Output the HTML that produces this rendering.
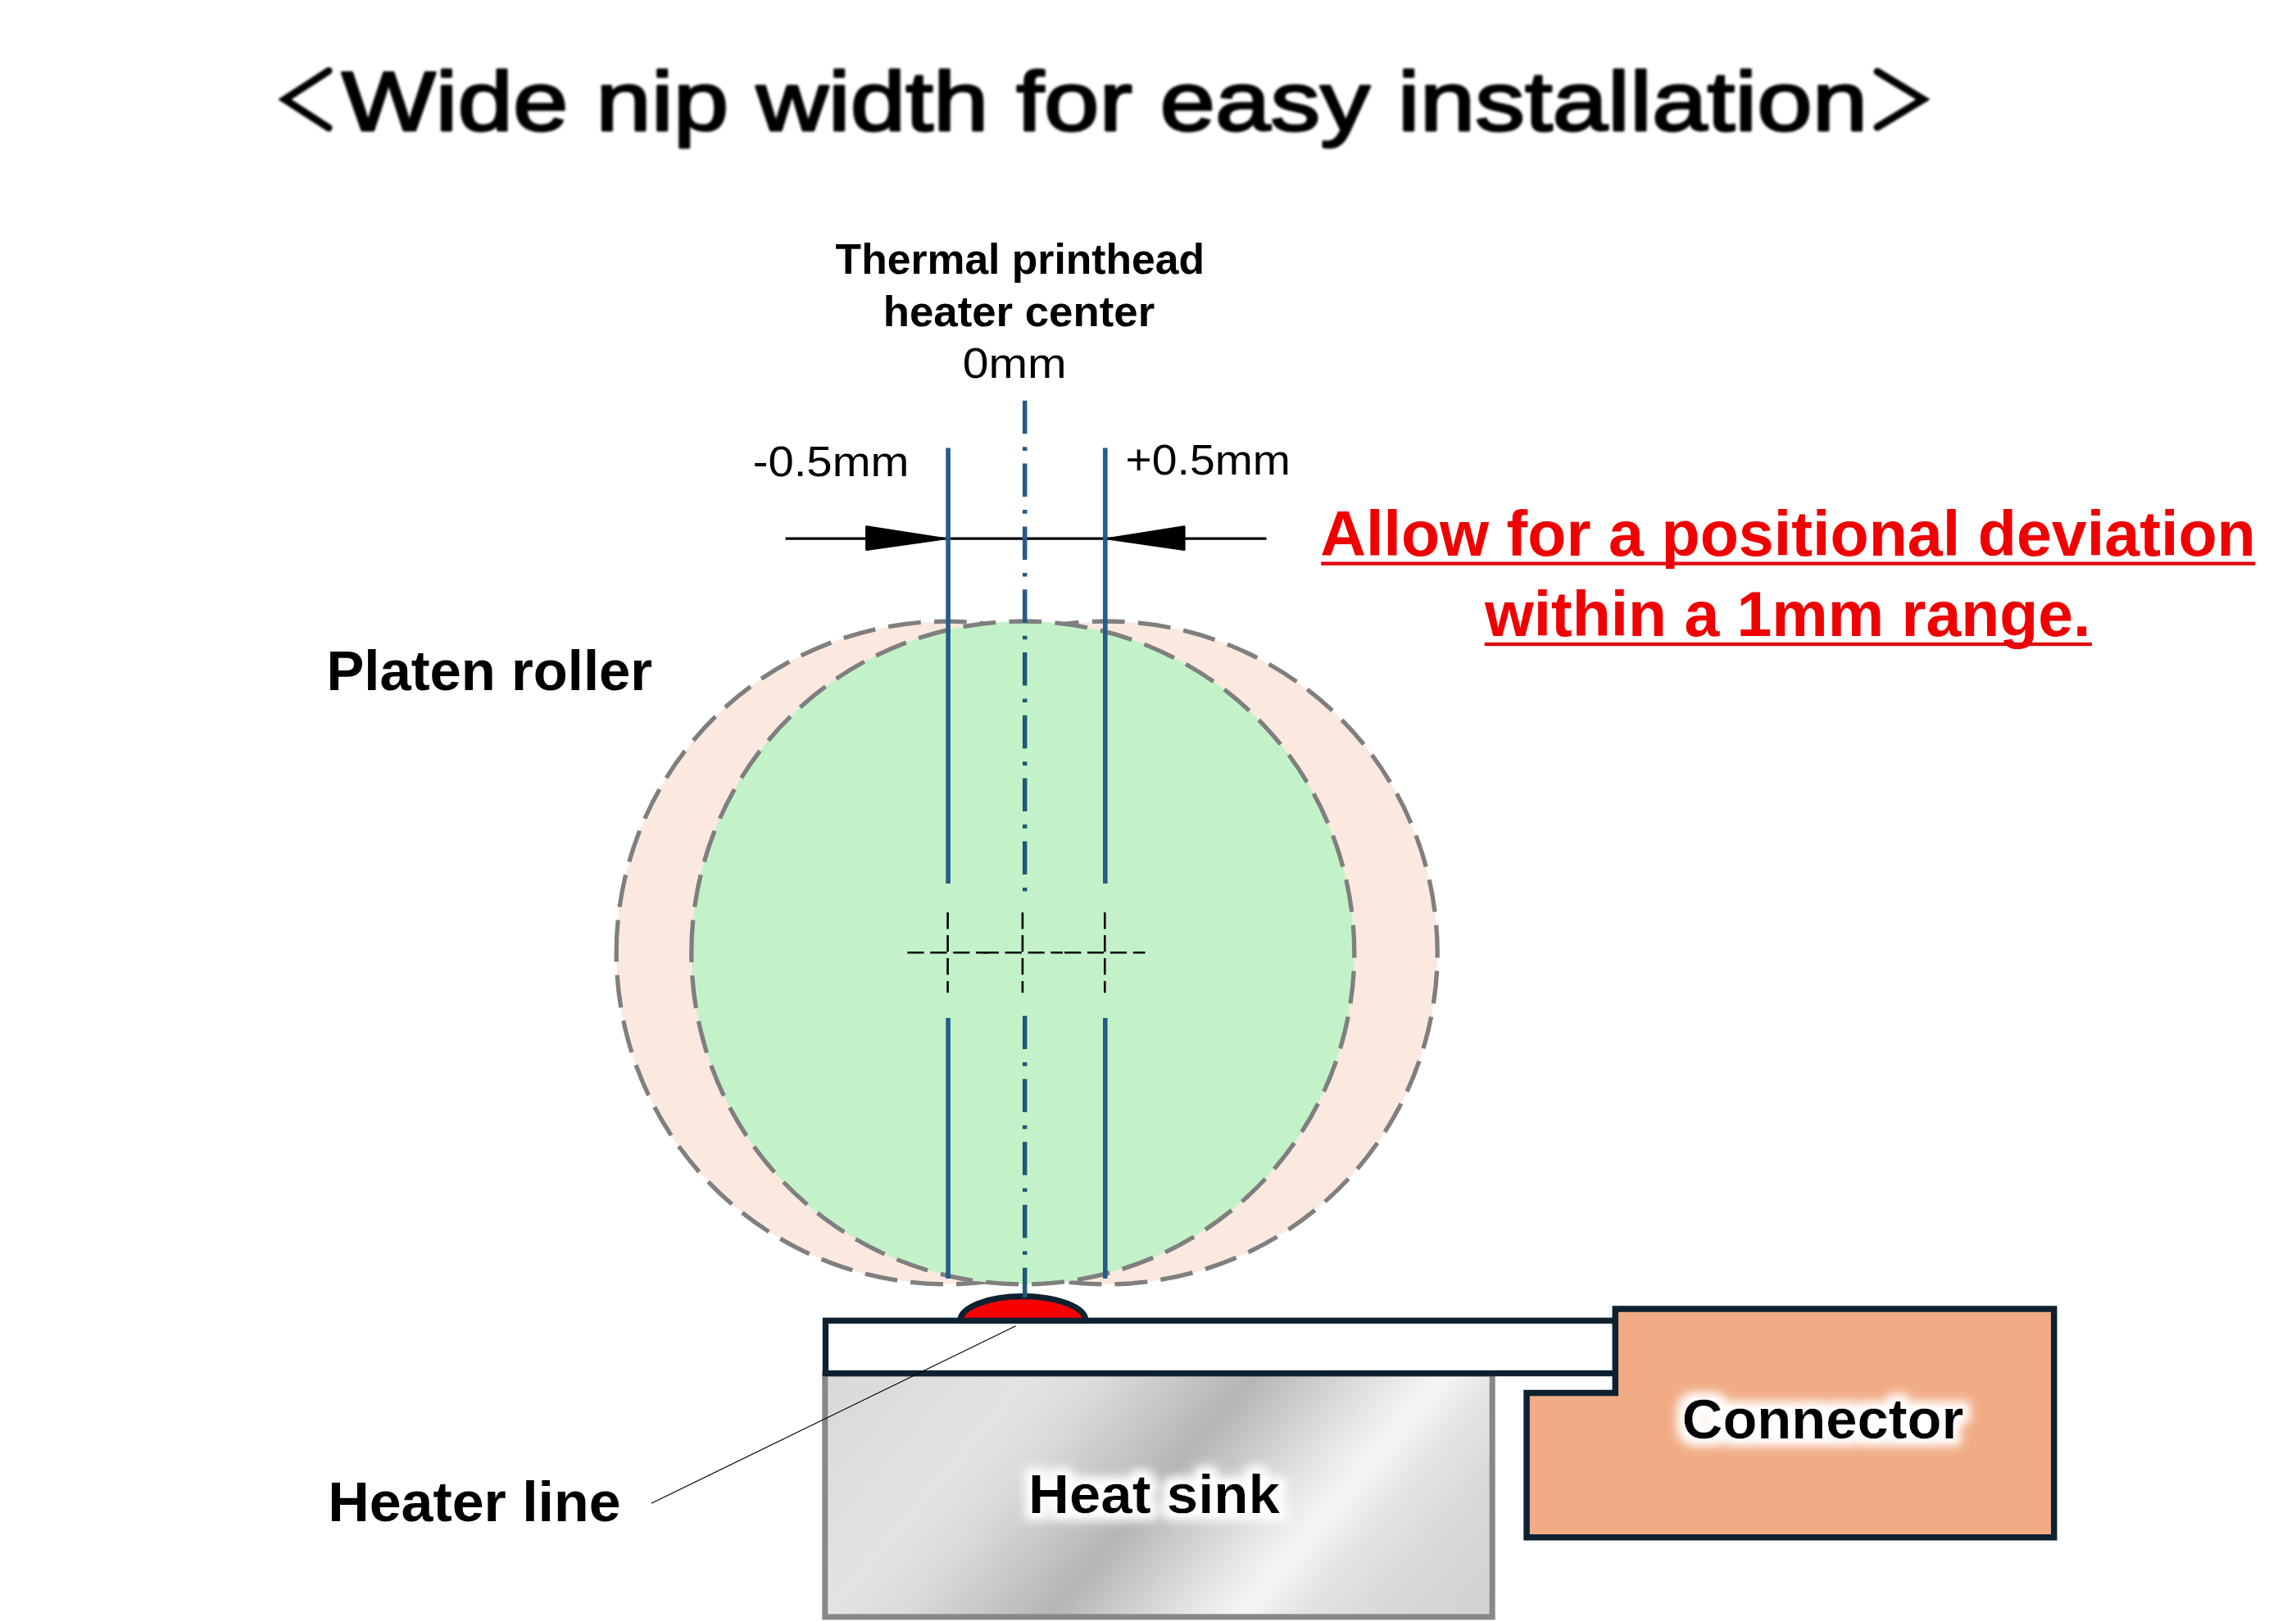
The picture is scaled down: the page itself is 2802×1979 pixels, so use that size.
<!DOCTYPE html>
<html><head><meta charset="utf-8">
<style>
html,body{margin:0;padding:0;background:#fff;overflow:hidden;}
svg{display:block;}
text{font-family:"Liberation Sans", sans-serif;}
</style></head>
<body>
<svg width="2802" height="1979" viewBox="0 0 2802 1979">
<defs>
  <linearGradient id="metal" gradientUnits="userSpaceOnUse" x1="1010" y1="1683" x2="1621.9" y2="2201.1">
    <stop offset="0" stop-color="#d9d9d9"/>
    <stop offset="0.233" stop-color="#e3e3e3"/>
    <stop offset="0.314" stop-color="#dbdbdb"/>
    <stop offset="0.414" stop-color="#c6c6c6"/>
    <stop offset="0.491" stop-color="#b5b5b5"/>
    <stop offset="0.576" stop-color="#cfcfcf"/>
    <stop offset="0.651" stop-color="#e6e6e6"/>
    <stop offset="0.713" stop-color="#f6f6f6"/>
    <stop offset="0.776" stop-color="#e4e4e4"/>
    <stop offset="0.875" stop-color="#d8d8d8"/>
    <stop offset="1" stop-color="#d2d2d2"/>
  </linearGradient>
  <linearGradient id="cl" gradientUnits="userSpaceOnUse" x1="0" y1="480" x2="0" y2="1590">
    <stop offset="0" stop-color="#275a8b"/>
    <stop offset="0.25" stop-color="#275a8b"/>
    <stop offset="0.251" stop-color="#1d5a78"/>
    <stop offset="1" stop-color="#1d5a78"/>
  </linearGradient>
  <filter id="soft" x="-5%" y="-50%" width="110%" height="200%"><feGaussianBlur stdDeviation="1.4"/></filter>
  <filter id="glow" x="-20%" y="-50%" width="140%" height="200%">
    <feMorphology in="SourceAlpha" operator="dilate" radius="9" result="d"/>
    <feGaussianBlur in="d" stdDeviation="6" result="b"/>
    <feFlood flood-color="#ffffff"/>
    <feComposite in2="b" operator="in" result="g"/>
    <feMerge><feMergeNode in="g"/><feMergeNode in="SourceGraphic"/></feMerge>
  </filter>
</defs>

<!-- Title -->
<g filter="url(#soft)">
<text x="417.0" y="159" font-size="102.2" fill="#000" stroke="#000" stroke-width="2.8" stroke-linejoin="round" textLength="1862.3" lengthAdjust="spacingAndGlyphs">Wide nip width for easy installation</text>
<polyline points="401.1,86.4 347.5,121.3 401.1,156.1" fill="none" stroke="#000" stroke-width="9" stroke-linecap="round" stroke-linejoin="miter"/>
<polyline points="2291.1,87.3 2347,121.3 2291.1,155.2" fill="none" stroke="#000" stroke-width="9" stroke-linecap="round" stroke-linejoin="miter"/>
</g>

<!-- Header labels -->
<text x="1019.6" y="333.5" font-size="51.6" font-weight="bold" fill="#000" textLength="450.4" lengthAdjust="spacingAndGlyphs">Thermal printhead</text>
<text x="1077.7" y="398" font-size="51.6" font-weight="bold" fill="#000" textLength="331.5" lengthAdjust="spacingAndGlyphs">heater center</text>
<text x="1174.7" y="461.4" font-size="51.5" fill="#000" textLength="127.0" lengthAdjust="spacingAndGlyphs">0mm</text>
<text x="918.7" y="580.7" font-size="51.5" fill="#000" textLength="190.7" lengthAdjust="spacingAndGlyphs">-0.5mm</text>
<text x="1373.5" y="579" font-size="51.5" fill="#000" textLength="201.4" lengthAdjust="spacingAndGlyphs">+0.5mm</text>

<!-- Red note -->
<text x="1611.2" y="677.5" font-size="77" font-weight="bold" fill="#f00000" textLength="1141.6" lengthAdjust="spacingAndGlyphs">Allow for a positional deviation</text>
<rect x="1612.2" y="685.4" width="1140.2" height="4.4" fill="#e00a10"/>
<text x="1811.9" y="776" font-size="77" font-weight="bold" fill="#f00000" textLength="739.4" lengthAdjust="spacingAndGlyphs">within a 1mm range.</text>
<rect x="1811.7" y="783.8" width="741.2" height="4.4" fill="#e00a10"/>

<!-- Side labels -->
<text x="398.4" y="841.9" font-size="68.3" font-weight="bold" fill="#000" textLength="397.7" lengthAdjust="spacingAndGlyphs">Platen roller</text>
<text x="400.2" y="1856.2" font-size="68.3" font-weight="bold" fill="#000" textLength="357.4" lengthAdjust="spacingAndGlyphs">Heater line</text>

<!-- Platen roller circles -->
<g stroke="#7f7f7f" stroke-width="5.3" stroke-dasharray="40 16.2">
  <path d="M752.2 1162.5 A404.5 404.5 0 0 1 1561.2 1162.5 A404.5 404.5 0 0 1 752.2 1162.5 Z" fill="#fbe9df"/>
  <path d="M945.2 1162.5 A404.5 404.5 0 0 1 1754.2 1162.5 A404.5 404.5 0 0 1 945.2 1162.5 Z" fill="#fbe9df"/>
  <path d="M843.8 1162.5 A404.5 404.5 0 0 1 1652.8 1162.5 A404.5 404.5 0 0 1 843.8 1162.5 Z" fill="#c3f2c8"/>
</g>

<!-- Heat sink -->
<rect x="1006.8" y="1676" width="814.4" height="296.8" fill="url(#metal)" stroke="#888888" stroke-width="7"/>
<text x="1255.1" y="1845.7" font-size="66.9" font-weight="bold" fill="#000" textLength="306.8" lengthAdjust="spacingAndGlyphs" filter="url(#glow)">Heat sink</text>

<!-- Board -->
<rect x="1007.5" y="1611.3" width="966" height="64.3" fill="#fff" stroke="#0d2131" stroke-width="7.3"/>

<!-- Heater dome -->
<path d="M1171.9 1611.3 A76.5 29.6 0 0 1 1324.9 1611.3 Z" fill="#f80000" stroke="#0d2131" stroke-width="7.2"/>

<!-- Connector -->
<path d="M1971.3 1596.9 L2506.7 1596.9 L2506.7 1875.7 L1863.1 1875.7 L1863.1 1699.6 L1971.3 1699.6 Z" fill="#f1ac86" stroke="#0d2131" stroke-width="7.5"/>
<text x="2052.8" y="1754.5" font-size="69" font-weight="bold" fill="#000" textLength="343.5" lengthAdjust="spacingAndGlyphs" filter="url(#glow)">Connector</text>

<!-- Dimension line and arrows -->
<line x1="958.6" y1="657.2" x2="1545.5" y2="657.2" stroke="#000" stroke-width="3.2"/>
<polygon points="1057.4,642.6 1152.6,657.2 1057.4,670.6" fill="#000" stroke="#000" stroke-width="2.6" stroke-linejoin="round"/>
<polygon points="1445.3,642.6 1352,657.2 1445.3,670.6" fill="#000" stroke="#000" stroke-width="2.6" stroke-linejoin="round"/>

<!-- Blue vertical lines -->
<g stroke="#265c8c" stroke-width="5.6">
  <line x1="1157.1" y1="546.4" x2="1157.1" y2="1078"/>
  <line x1="1157.1" y1="1242" x2="1157.1" y2="1560"/>
  <line x1="1348.8" y1="546.4" x2="1348.8" y2="1078"/>
  <line x1="1348.8" y1="1242" x2="1348.8" y2="1560"/>
</g>
<g stroke="url(#cl)" stroke-width="5.5" stroke-dasharray="40.5 16 4.6 15.7">
  <line x1="1250.7" y1="488.8" x2="1250.7" y2="1087.5"/>
  <line x1="1250.7" y1="1239.6" x2="1250.7" y2="1583"/>
</g>

<!-- Crosshairs -->
<g stroke="#000" stroke-width="2.6" stroke-dasharray="20.2 7.7">
  <line x1="1156.6" y1="1113.2" x2="1156.6" y2="1211.2"/>
  <line x1="1107.4" y1="1162.2" x2="1205.8" y2="1162.2"/>
  <line x1="1247.9" y1="1113.2" x2="1247.9" y2="1211.2"/>
  <line x1="1198.7" y1="1162.2" x2="1297.1" y2="1162.2"/>
  <line x1="1348.3" y1="1113.2" x2="1348.3" y2="1211.2"/>
  <line x1="1299.1" y1="1162.2" x2="1397.5" y2="1162.2"/>
</g>

<!-- Leader line -->
<line x1="1239.7" y1="1617.7" x2="794.9" y2="1834.2" stroke="#000" stroke-width="1.2"/>
</svg>
</body></html>
